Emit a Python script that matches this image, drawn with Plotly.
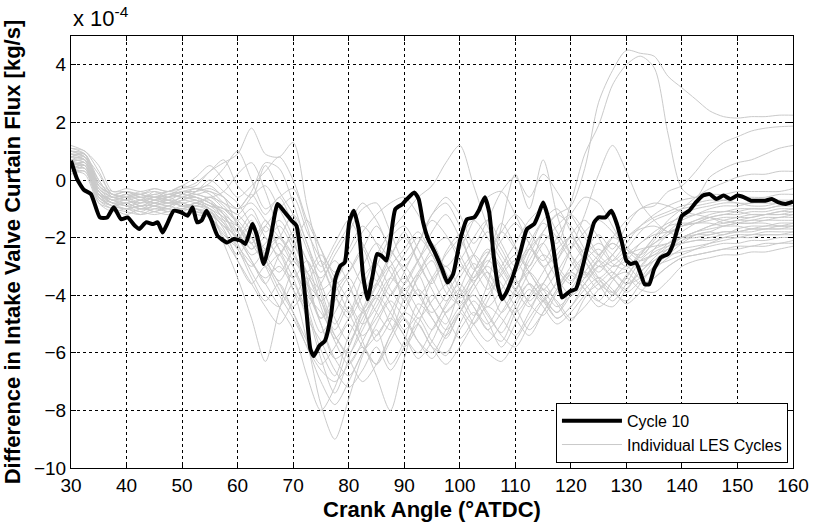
import plotly.graph_objects as go

# ---------------- data (values in units of 1e-4 kg/s) ----------------
cycle10_angle = [30.0, 31.1, 32.3, 33.6, 35.2, 36.5, 37.7, 39.0, 40.2, 41.5, 42.3, 43.5, 44.8, 45.6,
                 46.5, 47.3, 48.5, 49.8, 51.0, 51.9, 52.7, 53.5, 54.4, 55.2, 56.4, 58.1, 59.3, 60.6,
                 61.4, 62.7, 63.5, 64.7, 66.0, 67.2, 68.5, 69.7, 70.6, 71.4, 72.2, 73.1, 73.7, 74.7,
                 75.7, 76.8, 77.6, 78.5, 79.3, 80.1, 80.9, 81.8, 82.6, 83.4, 84.3, 85.1, 85.9, 86.8,
                 87.6, 88.4, 89.7, 90.5, 91.8, 92.6, 93.4, 94.3, 95.5, 96.8, 97.8, 98.8, 100.1, 101.3,
                 102.6, 103.4, 104.5, 105.3, 106.1, 107.0, 107.6, 108.4, 109.6, 110.9, 112.1, 113.4,
                 114.2, 115.0, 115.9, 116.7, 117.5, 118.4, 119.2, 120.0, 120.9, 121.7, 122.9, 124.2,
                 125.0, 126.2, 127.3, 128.3, 129.2, 130.0, 130.8, 131.7, 132.5, 133.3, 134.1, 135.0,
                 136.2, 137.5, 138.3, 139.2, 140.0, 141.3, 142.5, 143.8, 145.0, 146.2, 147.5, 148.7,
                 150.0, 151.2, 152.5, 153.7, 155.0, 156.2, 157.4, 158.7, 160.0]
cycle10_flux = [0.67, 0.03, -0.34, -0.49, -1.30, -1.30, -0.95, -1.36, -1.30, -1.59, -1.70, -1.47, -1.53,
                -1.47, -1.82, -1.53, -1.07, -1.12, -1.24, -0.95, -1.47, -1.41, -1.07, -1.36, -1.94,
                -2.17, -2.05, -2.11, -2.22, -1.53, -1.94, -2.92, -1.94, -0.83, -1.12, -1.41, -1.59,
                -2.63, -4.14, -5.87, -6.11, -5.76, -5.59, -4.72, -3.44, -2.98, -2.86, -1.47, -1.07,
                -1.70, -3.33, -4.14, -3.33, -2.57, -2.63, -2.80, -1.94, -1.01, -0.83, -0.66, -0.43,
                -0.66, -1.47, -2.05, -2.51, -3.09, -3.56, -3.27, -2.05, -1.36, -1.30, -1.07, -0.60,
                -1.12, -2.63, -3.79, -4.14, -3.90, -3.33, -2.51, -1.70, -1.53, -1.18, -0.78, -1.30,
                -2.17, -3.21, -4.08, -3.96, -3.85, -3.79, -3.33, -2.40, -1.47, -1.30, -1.30, -1.07,
                -1.53, -2.17, -2.80, -2.92, -2.86, -3.21, -3.62, -3.62, -3.09, -2.69, -2.57, -2.28,
                -1.70, -1.24, -1.07, -0.78, -0.54, -0.49, -0.66, -0.54, -0.66, -0.54, -0.60, -0.72,
                -0.72, -0.72, -0.66, -0.78, -0.83, -0.75]

les_angle = [30, 32.5, 35, 37.5, 40, 42.5, 45, 47.5, 50, 52.5,
             55, 57.5, 60, 62.5, 65, 67.5, 70, 72.5, 75, 77.5,
             80, 82.5, 85, 87.5, 90, 92.5, 95, 97.5, 100, 102.5,
             105, 107.5, 110, 112.5, 115, 117.5, 120, 122.5, 125, 127.5,
             130, 132.5, 135, 137.5, 140, 142.5, 145, 147.5, 150, 152.5,
             155, 157.5, 160]

les_cycle_01 = [1.1, 0.9, -0.4, -0.7, -0.6, -0.9, -0.7, -0.8, -0.6, -0.7,
                -0.9, -1.3, -1.8, -1.2, -2.0, -2.6, -1.8, -3.4, -4.8, -3.9,
                -3.2, -2.4, -3.5, -2.7, -1.8, -2.9, -3.6, -2.5, -1.9, -3.1,
                -2.6, -1.5, -2.3, -3.0, -1.8, -1.2, -0.9, 0.4, 2.7, 3.8,
                4.5, 4.4, 4.3, 3.6, 3.2, 2.8, 2.4, 2.2, 2.15, 2.2,
                2.2, 2.25, 2.25]
les_cycle_02 = [0.8, 0.7, -0.6, -0.9, -0.8, -1.0, -0.9, -0.7, -0.8, -0.9,
                -0.6, -1.0, -1.5, -2.2, -1.6, -2.4, -3.0, -4.1, -5.3, -4.6,
                -3.8, -4.5, -3.7, -3.0, -4.2, -3.4, -2.8, -3.9, -4.3, -3.2,
                -2.5, -3.1, -3.8, -2.6, -1.9, -2.2, -0.8, 0.9, 1.9, 3.3,
                4.0, 4.3, 3.9, 1.6, -0.3, -0.6, 0.1, 0.4, 0.6, 0.7,
                0.9, 1.1, 1.2]
les_cycle_03 = [0.6, 0.5, -0.5, -0.8, -1.0, -0.7, -0.9, -1.0, -0.7, -0.6,
                -1.1, -1.5, -2.0, -1.4, -2.7, -3.5, -2.8, -3.6, -4.2, -5.5,
                -4.8, -3.9, -4.6, -5.2, -4.1, -3.3, -4.4, -5.0, -3.8, -2.9,
                -3.5, -4.6, -3.9, -2.8, -2.2, -3.1, -3.6, -2.5, -1.9, -2.4,
                -1.6, -1.0, -0.9, -0.4, -0.2, 0.3, 0.9, 1.3, 1.5, 1.7,
                1.8, 1.85, 1.87]
les_cycle_04 = [1.0, 0.8, 0.2, -0.5, -0.4, -0.6, -0.5, -0.4, -0.3, -0.2,
                0.3, 0.6, 0.9, 1.8, 0.9, 0.8, 1.3, -0.9, -2.8, -4.0,
                -4.6, -3.4, -2.9, -3.8, -4.4, -3.3, -2.6, -3.4, -4.1, -3.6,
                -2.8, -3.3, -4.0, -3.2, -2.6, -3.0, -3.5, -2.8, -2.4, -2.9,
                -3.1, -2.5, -2.2, -1.9, -1.6, -1.4, -1.3, -1.5, -1.4, -1.3,
                -1.2, -1.1, -1.0]
les_cycle_05 = [0.4, 0.4, -0.7, -1.0, -1.1, -1.2, -1.0, -1.1, -0.9, -1.0,
                -1.2, -1.6, -2.3, -2.9, -3.4, -3.0, -3.8, -5.6, -7.8, -9.0,
                -7.6, -6.1, -5.2, -6.4, -5.6, -4.3, -4.8, -5.5, -4.6, -4.0,
                -4.7, -5.3, -4.4, -3.6, -4.1, -4.6, -3.8, -3.2, -3.6, -3.9,
                -3.3, -2.8, -2.6, -2.4, -2.1, -1.9, -1.8, -1.9, -1.7, -1.6,
                -1.6, -1.5, -1.5]
les_cycle_06 = [0.5, 0.6, -0.5, -0.9, -0.8, -1.0, -0.8, -0.9, -1.0, -0.8,
                -1.0, -2.2, -3.4, -4.8, -6.3, -4.5, -3.2, -4.4, -5.9, -6.8,
                -5.4, -4.6, -5.6, -4.9, -3.8, -4.5, -5.2, -4.3, -3.6, -4.4,
                -5.0, -4.2, -3.5, -4.3, -4.7, -3.9, -3.3, -3.8, -4.2, -3.5,
                -3.0, -3.4, -3.1, -2.7, -2.4, -2.3, -2.2, -2.1, -2.0, -2.0,
                -1.9, -1.9, -1.8]
les_cycle_07 = [0.7, 0.6, -0.3, -0.6, -0.7, -0.8, -0.6, -0.7, -0.5, -0.6,
                -0.8, -1.2, -1.6, -2.4, -2.0, -2.8, -3.4, -2.8, -4.0, -5.2,
                -4.4, -5.6, -6.8, -8.0, -6.2, -4.8, -5.6, -6.1, -5.0, -4.2,
                -4.9, -5.8, -5.0, -4.1, -3.6, -4.3, -4.9, -4.1, -3.5, -3.9,
                -4.2, -3.6, -3.0, -2.6, -2.2, -1.9, -1.8, -1.6, -1.5, -1.4,
                -1.4, -1.3, -1.3]
les_cycle_08 = [0.9, 0.8, -0.2, -0.5, -0.6, -0.5, -0.4, -0.6, -0.5, -0.3,
                -0.5, -0.9, -1.4, -1.0, -1.8, -1.4, -2.2, -3.2, -4.2, -3.6,
                -2.8, -3.6, -2.6, -1.8, -1.2, -0.6, -0.2, 0.6, 1.2, -0.2,
                -1.6, -2.6, -3.2, -2.4, -1.5, -2.0, -2.8, -3.4, -2.7, -2.0,
                -2.3, -2.7, -2.1, -1.6, -1.2, -1.0, -0.9, -0.8, -0.8, -0.9,
                -0.9, -0.8, -0.8]
les_cycle_09 = [0.3, 0.3, -0.6, -0.9, -1.0, -0.9, -1.1, -0.9, -0.8, -1.0,
                -1.3, -1.8, -2.6, -2.0, -3.0, -2.6, -3.8, -4.6, -6.2, -7.4,
                -6.2, -5.0, -4.1, -5.0, -5.8, -5.0, -4.0, -4.7, -5.5, -4.8,
                -3.6, -1.6, 0.2, -1.0, 0.7, -1.2, -2.6, -3.3, -2.8, -2.2,
                -2.6, -3.0, -2.4, -1.9, -1.6, -1.5, -1.3, -1.2, -1.2, -1.1,
                -1.1, -1.0, -1.0]
les_cycle_10 = [0.5, 0.6, -0.4, -0.7, -0.6, -0.8, -0.7, -0.5, -0.6, -0.7,
                -0.9, -1.1, -1.8, -2.6, -2.2, -1.6, -2.4, -3.8, -5.0, -6.2,
                -5.8, -4.5, -3.6, -4.3, -5.2, -4.6, -3.5, -3.0, -3.8, -4.7,
                -4.0, -3.3, -2.8, -3.6, -4.2, -3.5, -2.4, -1.2, 0.2, 1.2,
                0.3, -0.8, -1.4, -1.8, -1.6, -1.5, -1.5, -1.6, -1.6, -1.7,
                -1.7, -1.7, -1.6]
les_cycle_11 = [0.2, 0.3, -0.8, -1.1, -1.0, -1.2, -1.1, -1.0, -1.1, -1.2,
                -1.3, -1.9, -2.4, -3.4, -4.2, -3.6, -4.6, -5.8, -6.6, -7.0,
                -6.4, -5.8, -6.4, -5.6, -4.8, -5.6, -6.2, -5.4, -4.6, -5.4,
                -6.0, -6.3, -5.6, -4.8, -4.2, -4.8, -4.4, -3.8, -3.4, -3.8,
                -4.3, -3.9, -3.4, -3.0, -2.7, -2.6, -2.5, -2.4, -2.3, -2.3,
                -2.2, -2.2, -2.1]
les_cycle_12 = [1.2, 1.0, 0.5, -0.4, -0.3, -0.4, -0.3, -0.4, -0.2, -0.3,
                -0.2, -0.6, -1.0, -0.5, -1.2, -0.6, -1.6, -2.8, -3.4, -2.6,
                -1.8, -1.0, -0.8, -1.8, -2.8, -2.2, -1.4, -1.9, -2.8, -3.5,
                -2.9, -2.1, -1.5, -2.2, -3.0, -2.6, -1.9, -1.4, -2.0, -2.8,
                -2.4, -1.8, -1.4, -1.2, -1.0, -0.9, -0.8, -0.7, -0.6, -0.6,
                -0.6, -0.5, -0.5]
les_cycle_13 = [0.6, 0.7, 0.0, -0.6, -0.5, -0.7, -0.6, -0.8, -0.7, -0.5,
                -0.7, -1.4, -2.0, -1.6, -2.4, -2.0, -1.2, -2.2, -3.8, -5.0,
                -4.0, -3.0, -2.2, -2.8, -3.6, -2.8, -1.8, -1.2, -2.0, -3.0,
                -3.8, -3.0, -2.2, -1.4, -1.0, -1.8, -2.6, -3.2, -3.8, -3.3,
                -2.6, -2.2, -1.8, -1.5, -1.3, -1.2, -1.1, -1.1, -1.0, -1.0,
                -1.0, -0.9, -0.9]
les_cycle_14 = [0.8, 0.9, -0.1, -0.5, -0.6, -0.6, -0.8, -0.6, -0.4, -0.5,
                -0.4, -0.8, -1.2, -0.6, -0.2, -1.0, -2.0, -3.6, -4.8, -4.2,
                -3.4, -4.4, -5.4, -4.6, -3.6, -2.8, -2.2, -3.2, -4.0, -3.4,
                -2.6, -1.8, -1.2, -1.8, -2.6, -3.4, -4.0, -3.6, -3.0, -2.6,
                -2.0, -1.6, -1.3, -1.1, -0.9, -0.8, -0.7, -0.7, -0.8, -0.8,
                -0.7, -0.7, -0.7]
les_cycle_15 = [0.4, 0.5, -0.6, -0.8, -0.9, -1.1, -0.9, -1.0, -1.1, -0.9,
                -1.1, -1.7, -2.8, -3.6, -3.0, -3.8, -4.6, -5.6, -6.4, -5.8,
                -5.0, -5.8, -6.4, -5.4, -4.6, -3.8, -4.4, -5.2, -4.6, -3.8,
                -3.2, -4.0, -4.8, -5.4, -4.6, -3.8, -3.2, -3.8, -4.4, -4.0,
                -3.4, -3.8, -3.9, -3.5, -3.0, -2.8, -2.7, -2.6, -2.6, -2.5,
                -2.5, -2.4, -2.3]
les_cycle_16 = [0.9, 0.7, -0.3, -0.7, -0.7, -0.6, -0.7, -0.8, -0.6, -0.4,
                0.0, -0.4, -0.8, -1.6, -2.6, -3.2, -2.4, -1.4, -2.4, -3.6,
                -3.2, -2.4, -1.6, -2.4, -3.2, -4.0, -3.4, -2.6, -2.0, -1.4,
                -2.0, -2.8, -3.6, -3.0, -2.2, -1.6, -1.2, -1.8, -2.6, -3.0,
                -2.8, -2.2, -1.9, -1.8, -1.6, -1.4, -1.2, -1.1, -1.1, -1.2,
                -1.2, -1.1, -1.1]
les_cycle_17 = [0.7, 0.6, -0.5, -0.7, -0.9, -0.8, -0.6, -0.7, -0.9, -0.8,
                -0.6, -0.8, -1.0, -0.4, 0.6, 0.4, -0.8, -2.2, -3.2, -2.4,
                -1.6, -0.8, -1.4, -2.4, -3.0, -2.2, -1.2, -0.6, -1.2, -2.2,
                -1.4, -0.4, 0.1, -0.6, 0.2, -0.4, -1.2, -2.0, -2.6, -2.0,
                -1.4, -1.0, -0.8, -0.9, -1.1, -1.2, -1.3, -1.4, -1.5, -1.5,
                -1.5, -1.6, -1.6]
les_cycle_18 = [1.0, 0.9, -0.2, -0.6, -0.5, -0.5, -0.6, -0.4, -0.5, -0.6,
                -0.8, -1.2, -2.2, -3.2, -4.0, -4.4, -3.6, -4.8, -5.6, -6.6,
                -7.2, -6.6, -5.8, -6.6, -5.8, -5.0, -5.8, -6.0, -5.2, -4.6,
                -5.2, -5.6, -4.6, -3.8, -4.4, -5.0, -4.6, -4.0, -3.6, -3.2,
                -3.6, -3.4, -2.8, -2.4, -2.0, -1.8, -1.6, -1.5, -1.4, -1.4,
                -1.3, -1.3, -1.2]
les_cycle_19 = [0.6, 0.4, -0.4, -0.8, -0.9, -1.0, -1.0, -0.9, -0.7, -0.8,
                -1.0, -1.3, -1.8, -2.4, -1.6, -1.0, -0.6, -1.8, -2.8, -4.0,
                -4.8, -4.0, -3.0, -2.0, -1.6, -2.4, -3.4, -4.2, -3.4, -2.6,
                -1.8, -2.4, -3.4, -4.2, -3.6, -2.8, -2.0, -2.6, -3.2, -2.6,
                -2.0, -1.7, -1.6, -1.8, -2.0, -2.0, -1.9, -1.8, -1.8, -1.7,
                -1.7, -1.6, -1.6]
les_cycle_20 = [0.3, 0.4, -0.7, -0.9, -1.0, -1.1, -1.2, -1.1, -1.0, -1.1,
                -1.2, -1.6, -2.0, -2.8, -3.6, -4.4, -5.2, -6.8, -8.0, -7.2,
                -5.8, -4.8, -4.0, -4.6, -5.4, -6.0, -5.2, -4.4, -3.8, -4.4,
                -5.2, -4.6, -3.8, -3.2, -3.8, -4.4, -4.0, -3.4, -2.8, -3.2,
                -3.6, -3.2, -2.7, -2.3, -2.0, -1.8, -1.6, -1.4, -1.3, -1.2,
                -1.2, -1.2, -1.1]
les_cycle_21 = [0.8, 0.7, -0.5, -0.6, -0.7, -0.9, -0.7, -0.6, -0.8, -0.7,
                -0.9, -1.0, -1.4, -2.0, -2.8, -2.2, -3.0, -4.0, -4.6, -5.4,
                -6.0, -5.2, -4.2, -3.4, -4.0, -4.8, -4.2, -3.6, -3.0, -3.6,
                -4.4, -3.8, -3.0, -2.4, -3.0, -3.8, -3.2, -2.6, -2.2, -2.6,
                -3.0, -2.6, -2.0, -1.4, -1.0, -0.6, -0.3, -0.1, 0.1, 0.2,
                0.2, 0.3, 0.3]
les_cycle_22 = [1.1, 1.0, 0.3, -0.5, -0.4, -0.6, -0.5, -0.6, -0.4, -0.4,
                -0.3, -0.6, -1.6, -2.2, -1.4, -2.4, -3.4, -4.4, -3.6, -2.8,
                -3.6, -4.6, -4.0, -3.0, -2.4, -1.8, -2.6, -3.4, -2.8, -2.0,
                -1.4, -2.2, -3.0, -2.4, -1.8, -1.2, -1.6, -2.4, -3.0, -2.8,
                -2.2, -1.6, -1.2, -0.9, -0.7, -0.6, -0.5, -0.5, -0.4, -0.4,
                -0.4, -0.4, -0.3]
les_cycle_23 = [0.9, 0.8, -0.3, -0.6, -0.5, -0.7, -0.4, -0.5, -0.3, -0.1,
                0.3, 0.7, -0.2, -0.6, 0.5, -0.4, -1.2, -2.4, -3.6, -4.8,
                -5.6, -4.6, -3.6, -2.6, -2.0, -2.8, -3.8, -4.6, -4.0, -3.2,
                -2.4, -3.0, -3.8, -4.4, -3.6, -2.8, -2.2, -2.8, -3.4, -3.0,
                -2.6, -2.4, -2.3, -2.2, -2.0, -1.8, -1.7, -1.6, -1.5, -1.5,
                -1.4, -1.4, -1.4]
les_cycle_24 = [0.7, 0.8, -0.2, -0.5, -0.6, -0.4, -0.6, -0.5, -0.6, -0.4,
                -0.1, 0.4, 1.0, 0.0, -1.0, -0.6, -0.3, -1.6, -3.0, -2.2,
                -1.4, -2.2, -3.2, -4.0, -3.2, -2.2, -1.2, -0.8, -1.6, -2.6,
                -3.4, -4.0, -3.2, -2.2, -1.4, -1.0, -1.8, -2.8, -3.6, -4.2,
                -3.6, -2.8, -2.4, -2.2, -2.0, -1.9, -1.9, -1.8, -1.8, -1.8,
                -1.7, -1.7, -1.7]
les_cycle_25 = [0.5, 0.5, -0.4, -0.8, -0.7, -0.9, -0.8, -0.7, -0.9, -0.8,
                -0.7, -1.2, -2.0, -2.8, -3.6, -2.6, -2.0, -2.8, -4.4, -5.6,
                -6.4, -5.6, -4.6, -3.6, -3.0, -3.8, -4.8, -5.4, -4.6, -3.6,
                -3.0, -3.6, -4.4, -5.2, -4.6, -3.8, -3.0, -2.4, -2.8, -3.4,
                -3.8, -3.0, -2.5, -2.3, -2.2, -2.1, -2.1, -2.0, -2.0, -1.9,
                -1.9, -1.9, -1.9]
les_cycle_26 = [1.0, 0.9, 0.0, -0.6, -0.6, -0.5, -0.7, -0.6, -0.4, -0.5,
                -0.6, -0.4, 0.2, 0.6, -0.4, -1.8, -2.8, -3.2, -2.6, -3.4,
                -4.2, -5.0, -4.4, -3.4, -2.6, -2.0, -2.6, -3.6, -4.4, -5.0,
                -4.2, -3.2, -2.6, -3.2, -4.0, -4.6, -4.0, -3.2, -2.6, -2.2,
                -2.6, -3.0, -2.8, -2.4, -2.2, -2.1, -2.0, -1.9, -1.8, -1.7,
                -1.6, -1.6, -1.5]
les_cycle_27 = [0.6, 0.5, -0.6, -0.9, -1.0, -0.9, -0.9, -1.1, -1.0, -0.9,
                -1.0, -1.5, -2.4, -3.0, -2.4, -2.0, -2.6, -3.6, -5.0, -6.2,
                -6.8, -6.0, -5.0, -4.2, -4.8, -5.6, -6.0, -5.2, -4.4, -4.0,
                -4.6, -5.4, -5.8, -5.0, -4.2, -3.6, -3.2, -3.6, -4.2, -4.4,
                -3.8, -3.2, -2.8, -2.6, -2.5, -2.4, -2.3, -2.2, -2.2, -2.1,
                -2.1, -2.0, -2.0]
les_cycle_28 = [0.8, 0.9, -0.2, -0.5, -0.4, -0.5, -0.6, -0.5, -0.4, -0.3,
                -0.4, -0.6, -1.0, -0.8, -1.4, -2.0, -2.6, -3.2, -3.8, -3.4,
                -2.6, -1.8, -1.2, -0.8, -0.6, -1.2, -2.2, -3.0, -2.4, -1.4,
                -0.6, -0.4, -1.2, -2.2, -2.8, -2.0, -1.2, -0.6, -0.8, -1.6,
                -2.4, -2.6, -2.2, -1.8, -1.4, -1.2, -1.0, -0.9, -0.9, -0.8,
                -0.8, -0.8, -0.7]
les_cycle_29 = [0.4, 0.5, -0.5, -0.8, -0.8, -1.0, -0.9, -0.8, -0.9, -1.0,
                -1.1, -1.4, -1.6, -2.2, -3.0, -4.0, -4.8, -5.8, -7.0, -7.8,
                -7.0, -6.0, -5.4, -4.8, -5.4, -6.2, -5.6, -4.6, -4.2, -5.0,
                -5.6, -5.0, -4.2, -3.6, -4.2, -4.8, -4.4, -3.6, -3.0, -3.4,
                -3.9, -3.5, -3.0, -2.8, -2.6, -2.4, -2.2, -2.0, -1.9, -1.9,
                -1.8, -1.8, -1.8]
les_cycle_30 = [1.0, 0.8, -0.1, -0.4, -0.4, -0.5, -0.3, -0.4, -0.2, 0.1,
                0.5, 0.0, -0.6, -0.2, 0.3, 0.8, 0.0, -1.4, -2.4, -3.2,
                -2.4, -1.6, -2.2, -3.2, -3.8, -3.2, -2.4, -2.0, -2.6, -3.4,
                -2.6, -1.8, -2.4, -3.2, -3.8, -3.2, -2.4, -1.8, -1.4, -1.8,
                -2.4, -2.8, -2.6, -2.2, -1.8, -1.5, -1.3, -1.2, -1.1, -1.0,
                -1.0, -0.9, -0.9]
les_cycle_31 = [0.3, 0.2, -0.8, -1.0, -1.2, -1.0, -1.1, -1.2, -1.0, -1.1,
                -1.3, -2.0, -2.8, -3.6, -4.4, -5.0, -4.2, -3.4, -4.2, -5.4,
                -6.2, -7.0, -6.4, -5.4, -4.6, -5.0, -5.8, -6.4, -5.8, -5.0,
                -4.4, -4.8, -5.4, -4.6, -3.8, -4.2, -4.8, -4.4, -3.8, -3.4,
                -3.2, -3.6, -3.4, -3.0, -2.7, -2.6, -2.5, -2.4, -2.4, -2.3,
                -2.3, -2.2, -2.2]
les_cycle_32 = [0.7, 0.7, -0.4, -0.7, -0.8, -0.7, -0.8, -0.9, -0.7, -0.6,
                -0.8, -1.0, -1.2, -1.8, -2.8, -3.6, -4.4, -3.6, -2.8, -3.6,
                -4.6, -5.4, -4.8, -4.0, -3.4, -4.0, -4.6, -4.0, -3.2, -2.6,
                -3.2, -4.0, -4.6, -4.0, -3.2, -2.4, -2.0, -2.6, -3.4, -4.0,
                -3.4, -2.6, -2.0, -1.6, -1.5, -1.5, -1.4, -1.3, -1.3, -1.3,
                -1.2, -1.2, -1.2]

x_ticks = [30, 40, 50, 60, 70, 80, 90, 100, 110, 120, 130, 140, 150, 160]
y_ticks = [-10, -8, -6, -4, -2, 0, 2, 4]

les_cycles = [les_cycle_01, les_cycle_02, les_cycle_03, les_cycle_04, les_cycle_05, les_cycle_06,
              les_cycle_07, les_cycle_08, les_cycle_09, les_cycle_10, les_cycle_11, les_cycle_12,
              les_cycle_13, les_cycle_14, les_cycle_15, les_cycle_16, les_cycle_17, les_cycle_18,
              les_cycle_19, les_cycle_20, les_cycle_21, les_cycle_22, les_cycle_23, les_cycle_24,
              les_cycle_25, les_cycle_26, les_cycle_27, les_cycle_28, les_cycle_29, les_cycle_30,
              les_cycle_31, les_cycle_32]

# ---------------- figure ----------------
FONT = "Liberation Sans, Arial, sans-serif"
GRAY = "rgb(202,202,202)"

fig = go.Figure()
for i, vals in enumerate(les_cycles):
    fig.add_trace(go.Scatter(
        x=les_angle, y=vals, mode="lines",
        line=dict(color=GRAY, width=1, shape="spline", smoothing=0.8),
        name="Individual LES Cycles", legendgroup="les",
        showlegend=(i == 0), legendrank=2, hoverinfo="skip"))

fig.add_trace(go.Scatter(
    x=cycle10_angle, y=cycle10_flux, mode="lines",
    line=dict(color="black", width=4, shape="spline", smoothing=0.5),
    name="Cycle 10", legendrank=1))

axis_common = dict(
    showline=True, linecolor="black", linewidth=1, mirror="ticks",
    ticks="inside", ticklen=5, tickcolor="black",
    showgrid=True, gridcolor="black", gridwidth=1, griddash="3px,3px",
    zeroline=False, automargin=False,
    tickfont=dict(family=FONT, size=19, color="black"),
)

fig.update_xaxes(range=[30, 160], tickvals=x_ticks,
                 title=dict(text="<b>Crank Angle (°ATDC)</b>",
                            font=dict(family=FONT, size=22, color="black"), standoff=6),
                 **axis_common)
fig.update_yaxes(range=[-10, 5], tickvals=y_ticks,
                 title=dict(text="<b>Difference in Intake Valve Curtain Flux [kg/s]</b>",
                            font=dict(family=FONT, size=22, color="black"), standoff=8),
                 **axis_common)

fig.add_annotation(xref="paper", yref="paper", x=0, y=1, xanchor="left", yanchor="bottom",
                   yshift=3, showarrow=False, text="x 10<sup>-4</sup>",
                   font=dict(family=FONT, size=22, color="black"))

fig.update_layout(
    width=813, height=523,
    margin=dict(l=71, r=20, t=36, b=55),
    paper_bgcolor="white", plot_bgcolor="white",
    showlegend=True,
    legend=dict(x=0.993, y=0.012, xanchor="right", yanchor="bottom",
                bgcolor="white", bordercolor="black", borderwidth=1,
                font=dict(family=FONT, size=16, color="black"),
                tracegroupgap=0, itemwidth=60),
)

fig.write_html("out.html", config={"displayModeBar": False},
               post_script="document.body.style.margin='0';document.body.style.overflow='hidden';")
